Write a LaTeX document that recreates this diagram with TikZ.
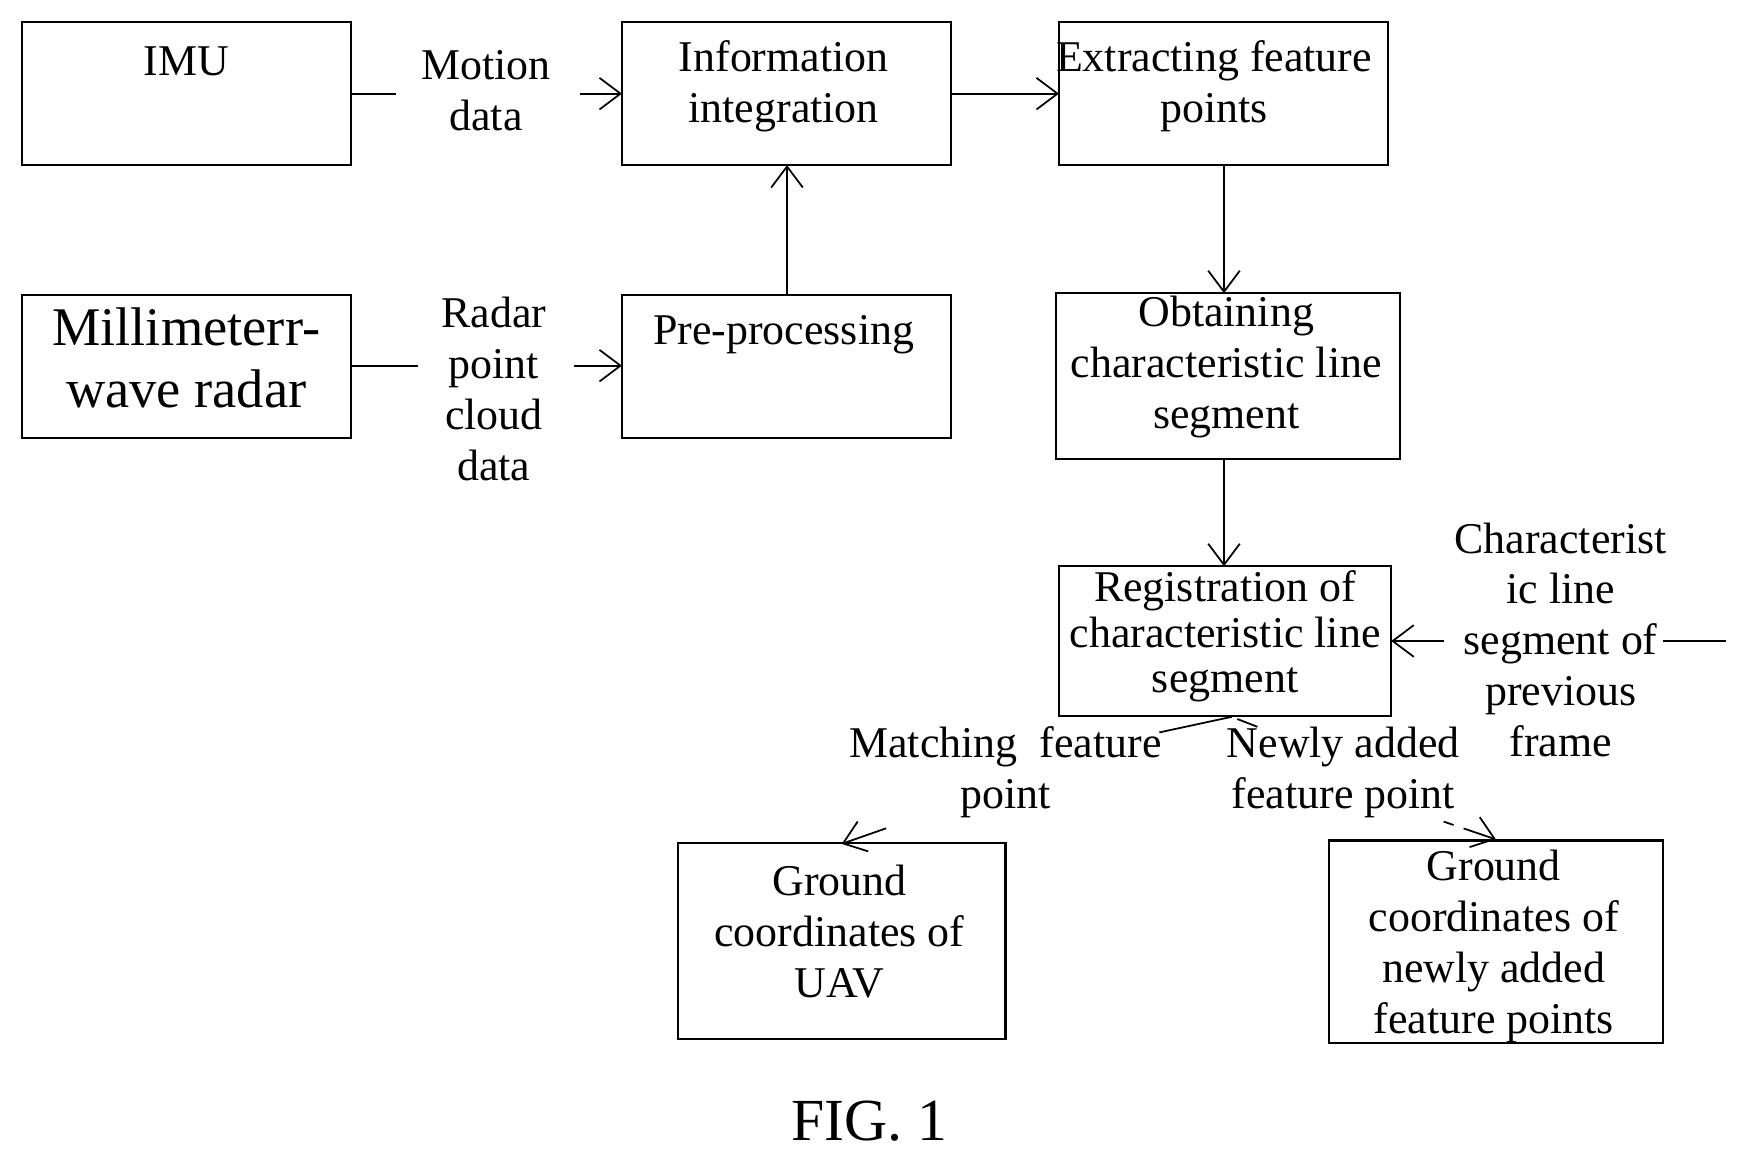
\documentclass[tikz,border=0pt]{standalone}
\usepackage{fontspec}
\setmainfont{Liberation Serif}
\usetikzlibrary{arrows.meta}
\begin{document}
\begin{tikzpicture}[x=0.01115cm,y=-0.01115cm,
  box/.style={draw,line width=0.6pt,inner sep=0pt},
  txt/.style={align=center,font=\fontsize{12.5}{14.5}\selectfont,inner sep=0pt},
  ln/.style={line width=0.5pt},
  arr/.style={line width=0.5pt,-{Straight Barb[length=6pt,width=9pt]}}]
\useasboundingbox (0,0) rectangle (1560,1034);
% boxes
\draw[box] (20,20) rectangle (315,148) coordinate (imuC);
\node[txt] (imu) at (167,55) {IMU};
\draw[box] (558,20) rectangle (853,148);
\node[txt] (info) at (703,77) {Information\\integration};
\draw[box] (950,20) rectangle (1245,148);
\node[txt] (ext) at (1089,77) {Extracting feature\\points};
\draw[box] (20,265) rectangle (315,393);
\node[txt,font=\fontsize{15.5}{17.5}\selectfont] (mmw) at (167,321) {Millimeterr-\\wave radar};
\draw[box] (558,265) rectangle (853,393);
\node[txt] (pre) at (703,300) {Pre-processing};
\draw[box] (947,263) rectangle (1256,412);
\node[txt] (obt) at (1100,329) {Obtaining\\characteristic line\\segment};
\draw[box] (950,508) rectangle (1248,642);
\node[txt,font=\fontsize{12.5}{13}\selectfont] (reg) at (1099,571) {Registration of\\characteristic line\\segment};
\draw[box] (608,756) rectangle (902,932);
\node[txt] (uav) at (753,836) {Ground\\coordinates of\\UAV};
\draw[box] (1192,754) rectangle (1492,936);
\node[txt] (newp) at (1340,849) {Ground\\coordinates of\\newly added\\feature points};
\node[txt,font=\fontsize{17}{19}\selectfont] (fig) at (780,1006) {FIG. 1};
% labels
\node[txt] (lmot) at (436,81) {Motion\\data};
\node[txt] (lrad) at (443,349) {Radar\\point\\cloud\\data};
\node[txt] (lprev) at (1400,574) {Characterist\\ic line\\segment of\\previous\\frame};
\node[txt] (lmat) at (902,693) {Matching\ \ feature\\point};
\node[txt] (lnew) at (1205,693) {Newly added\\feature point};
% connectors
\coordinate (a1) at (315,84); \coordinate (a2) at (355,84);
\coordinate (a3) at (520,84); \coordinate (a4) at (558,84);
\draw[ln] (a1) -- (a2); \draw[arr] (a3) -- (a4);
\coordinate (b1) at (315,328); \coordinate (b2) at (375,328);
\coordinate (b3) at (515,328); \coordinate (b4) at (558,328);
\draw[ln] (b1) -- (b2); \draw[arr] (b3) -- (b4);
\coordinate (c1) at (853,84); \coordinate (c2) at (950,84);
\draw[arr] (c1) -- (c2);
\coordinate (d1) at (706,265); \coordinate (d2) at (706,148);
\draw[arr] (d1) -- (d2);
\coordinate (e1) at (1098,148); \coordinate (e2) at (1098,263);
\draw[arr] (e1) -- (e2);
\coordinate (f1) at (1098,412); \coordinate (f2) at (1098,508);
\draw[arr] (f1) -- (f2);
\coordinate (g1) at (1548,575); \coordinate (g2) at (1492,575);
\coordinate (g3) at (1295,575); \coordinate (g4) at (1248,575);
\draw[ln] (g1) -- (g2); \draw[arr] (g3) -- (g4);
\coordinate (h1) at (1105,643); \coordinate (h2) at (1040,657);
\coordinate (h3) at (795,743); \coordinate (h4) at (755,757);
\draw[ln] (h1) -- (h2); \draw[arr] (h3) -- (h4);
\coordinate (i1) at (1110,645); \coordinate (i2) at (1128,652);
\coordinate (i3) at (1295,737); \coordinate (i4) at (1342,753);
\draw[ln] (i1) -- (i2); \draw[arr,dash pattern=on 3pt off 3pt on 12pt] (i3) -- (i4);
\end{tikzpicture}
\end{document}
